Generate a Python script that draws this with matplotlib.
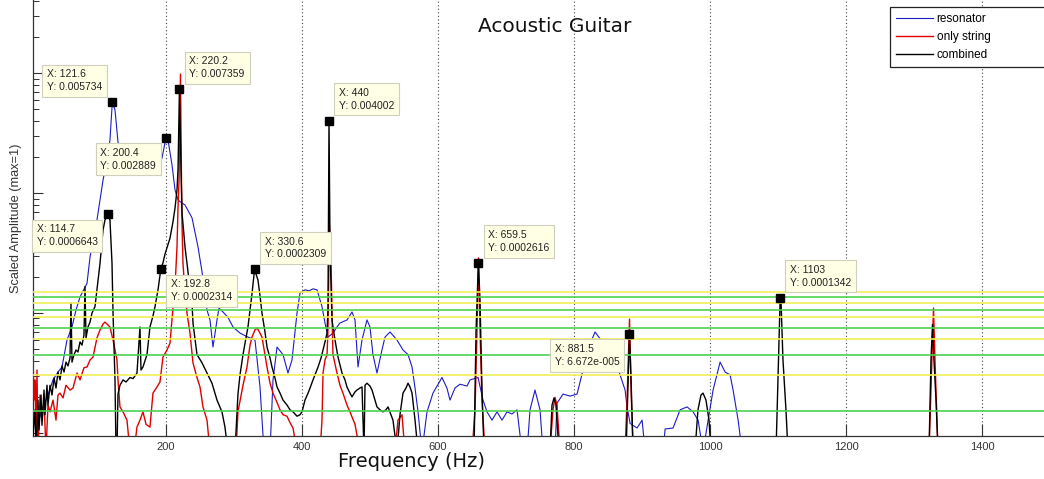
import numpy as np
import matplotlib
matplotlib.use("Agg")
import matplotlib.pyplot as plt

plt.rcParams.update({
    "font.family": ["Liberation Sans", "DejaVu Sans"],
    "axes.unicode_minus": False,
})

# resonator response (Hz, scaled amplitude)
res_freq = [7.9, 13.8, 19.7, 27.0, 34.4, 41.7, 47.6, 55.0, 62.3, 68.2, 74.1, 84.4, 88.8,
            99.0, 103.5, 107.9, 113.7, 118.1, 125.5, 129.9, 140.2, 154.9, 176.9, 188.7,
            194.6, 203.4, 209.3, 213.7, 218.1, 224.0, 228.4, 238.7, 247.5, 253.4, 260.7,
            265.1, 269.5, 275.4, 278.3, 284.2, 291.5, 298.9, 309.2, 320.9, 331.2, 338.6,
            344.5, 353.3, 357.7, 363.6, 372.4, 379.7, 385.6, 393.0, 397.4, 404.7, 410.6,
            416.5, 422.4, 429.7, 434.1, 438.5, 445.8, 451.7, 456.1, 466.4, 473.8, 478.2,
            482.6, 488.5, 495.8, 500.2, 504.6, 510.5, 517.8, 522.3, 529.6, 539.9, 548.7,
            556.1, 562.0, 566.4, 570.8, 576.6, 584.0, 592.8, 606.0, 613.3, 617.8, 625.1,
            632.5, 642.8, 647.2, 659.0, 666.3, 672.2, 679.5, 686.9, 694.2, 701.6, 708.9,
            716.3, 723.6, 731.0, 735.4, 742.7, 750.1, 754.5, 772.1, 775.0, 783.9, 794.2,
            804.5, 813.3, 823.6, 830.9, 838.3, 848.6, 857.4, 867.7, 875.1, 878.0, 882.5,
            892.7, 900.1, 904.5, 930.9, 933.9, 945.6, 955.9, 966.2, 975.0, 982.4, 989.7,
            997.1, 1004.4, 1014.7, 1022.1, 1029.4, 1033.8, 1041.2, 1047.1]
res_amp = [7e-6, 1.28e-5, 1.65e-5, 2.07e-5, 2.77e-5, 3.22e-5, 3.55e-5, 5.96e-5, 7.65e-5,
           1.06e-4, 1.36e-4, 1.77e-4, 2.93e-4, 5.96e-4, 8.75e-4, 1.28e-3, 1.88e-3, 2.77e-3,
           4.92e-3, 2.66e-3, 1.75e-3, 1.5e-3, 1.5e-3, 1.62e-3, 1.96e-3, 2.77e-3, 1.71e-3,
           1.06e-3, 8.75e-4, 8.25e-4, 7.95e-4, 6.2e-4, 3.55e-4, 2.2e-4, 1.06e-4, 8.75e-5,
           5.2e-5, 8.75e-5, 1.1e-4, 1.02e-4, 9.2e-5, 7.65e-5, 6.8e-5, 6.3e-5, 5.96e-5,
           2.42e-5, 7e-6, 7e-6, 2.77e-5, 5.2e-5, 4.5e-5, 3.16e-5, 4.06e-5, 1.0e-4, 1.47e-4,
           1.56e-4, 1.53e-4, 1.59e-4, 1.56e-4, 1.13e-4, 8.25e-5, 6.3e-5, 6.8e-5, 7.65e-5,
           8.25e-5, 8.75e-5, 1.02e-4, 8.75e-5, 3.55e-5, 5.96e-5, 8.75e-5, 7.65e-5, 4.5e-5,
           3.16e-5, 4.92e-5, 6.3e-5, 6.95e-5, 5.96e-5, 4.92e-5, 4.5e-5, 3.55e-5, 2.37e-5,
           1.5e-5, 7e-6, 1.5e-5, 2.15e-5, 2.9e-5, 2.37e-5, 1.88e-5, 2.37e-5, 2.55e-5,
           2.46e-5, 2.77e-5, 2.9e-5, 1.88e-5, 1.5e-5, 1.28e-5, 1.5e-5, 1.28e-5, 1.5e-5,
           1.44e-5, 1.56e-5, 7e-6, 7e-6, 1.56e-5, 2.28e-5, 1.56e-5, 7e-6, 7e-6, 1.77e-5,
           2.11e-5, 2.03e-5, 2.11e-5, 3.35e-5, 5.5e-5, 6.95e-5, 6.1e-5, 5.36e-5, 4.92e-5,
           3.05e-5, 2.28e-5, 1.65e-5, 1.2e-5, 1.1e-5, 1.28e-5, 7e-6, 7e-6, 1.08e-5, 1.1e-5,
           1.56e-5, 1.65e-5, 1.5e-5, 1.28e-5, 7e-6, 1.28e-5, 2.28e-5, 3.9e-5, 3.22e-5,
           3.05e-5, 2.28e-5, 1.28e-5, 7e-6]

# plucked string alone
str_freq = [5.0, 6.5, 7.9, 9.4, 10.9, 12.3, 15.3, 18.2, 21.2, 24.1, 27.0, 30.0, 34.4, 38.8,
            41.7, 44.7, 49.1, 53.5, 59.4, 63.8, 69.7, 74.1, 79.9, 84.4, 88.8, 93.2, 99.0,
            103.5, 107.9, 110.8, 115.2, 118.1, 122.6, 128.4, 129.9, 132.8, 137.3, 143.1,
            147.5, 153.4, 157.8, 162.2, 166.6, 171.1, 176.9, 181.3, 187.2, 191.6, 196.0,
            201.9, 206.3, 210.7, 213.7, 216.6, 218.1, 219.6, 221.7, 223.2, 224.0, 225.4,
            228.4, 231.3, 235.7, 240.1, 246.0, 250.4, 254.8, 260.7, 265.1, 303.3, 306.2,
            313.6, 319.5, 323.9, 326.8, 331.2, 334.2, 338.6, 341.5, 345.9, 348.9, 353.3,
            357.7, 363.6, 368.0, 372.4, 378.3, 382.7, 387.1, 393.0, 426.8, 429.7, 431.2,
            434.1, 437.1, 438.5, 440.7, 442.9, 444.4, 445.8, 451.7, 456.1, 460.5, 466.4,
            470.8, 478.2, 485.5, 536.9, 541.4, 547.2, 551.6, 650.2, 654.6, 657.5, 659.7,
            661.9, 664.8, 669.2, 764.7, 769.1, 772.1, 775.0, 779.4, 875.0, 878.0, 881.6,
            883.9, 886.9, 1321.7, 1324.6, 1328.3, 1330.5, 1335.0, 1490.0]
str_amp = [4.3e-5, 1.88e-5, 2.77e-5, 1.06e-5, 3.35e-5, 7e-6, 2.07e-5, 1.28e-5, 1.88e-5, 7e-6,
           1.71e-5, 1.5e-5, 1.88e-5, 1.28e-5, 2.07e-5, 2.15e-5, 1.96e-5, 2.5e-5, 2.28e-5,
           2.37e-5, 3.16e-5, 2.77e-5, 3.5e-5, 3.55e-5, 4.06e-5, 4.3e-5, 6.2e-5, 7.22e-5,
           8.1e-5, 8.4e-5, 7.95e-5, 7.65e-5, 5.96e-5, 4.06e-5, 2.77e-5, 1.65e-5, 1.5e-5,
           1.28e-5, 7e-6, 7e-6, 1.12e-5, 1.28e-5, 1.5e-5, 1.18e-5, 1.12e-5, 2.15e-5, 2.42e-5,
           2.66e-5, 4.3e-5, 4.92e-5, 5.6e-5, 1.1e-4, 1.66e-4, 3.55e-4, 7.5e-4, 1.28e-3,
           9.8e-3, 1.28e-3, 5.45e-4, 2.6e-4, 1.44e-4, 1.0e-4, 6.8e-5, 3.84e-5, 2.9e-5,
           2.42e-5, 1.65e-5, 1.28e-5, 7e-6, 7e-6, 1.5e-5, 2.5e-5, 3.55e-5, 5.4e-5, 6.3e-5,
           7.22e-5, 7.5e-5, 6.8e-5, 6.3e-5, 4.5e-5, 3.55e-5, 2.6e-5, 2.15e-5, 1.8e-5,
           1.56e-5, 1.42e-5, 1.38e-5, 1.22e-5, 1.1e-5, 7e-6, 7e-6, 1.28e-5, 3.16e-5, 4.06e-5,
           4.5e-5, 7.22e-5, 5.4e-4, 2.77e-4, 1.0e-4, 4.5e-5, 3.16e-5, 2.5e-5, 2.15e-5,
           1.71e-5, 1.5e-5, 1.18e-5, 7e-6, 7e-6, 1.28e-5, 1.42e-5, 7e-6, 7e-6, 1.56e-5,
           7.22e-5, 2.88e-4, 7.22e-5, 1.88e-5, 7e-6, 7e-6, 1.56e-5, 1.98e-5, 1.71e-5, 7e-6,
           7e-6, 1.88e-5, 8.9e-5, 2.28e-5, 7e-6, 7e-6, 2.28e-5, 1.1e-4, 4.06e-5, 7e-6, 7e-6]

# string mounted on the body
comb_freq = [5.0, 7.9, 9.4, 12.3, 13.8, 16.8, 18.2, 21.2, 22.6, 25.6, 27.0, 30.0, 32.9, 35.9,
             38.8, 41.7, 44.7, 47.6, 50.6, 53.5, 56.4, 59.4, 60.8, 62.3, 65.2, 68.2, 71.1,
             74.1, 77.0, 79.9, 81.4, 82.9, 85.8, 88.8, 91.7, 96.1, 99.0, 103.5, 107.9, 110.8,
             118.1, 121.1, 122.6, 125.5, 127.0, 128.4, 129.9, 132.8, 137.3, 141.7, 147.5,
             152.0, 157.8, 162.2, 163.7, 166.6, 172.5, 176.9, 181.3, 184.3, 188.7, 196.0,
             199.0, 206.3, 210.7, 213.7, 216.6, 218.1, 222.5, 224.0, 228.4, 232.8, 235.7,
             238.7, 240.1, 246.0, 253.4, 260.7, 268.0, 275.4, 282.7, 287.1, 291.5, 301.8,
             306.2, 309.2, 313.6, 318.0, 320.9, 323.9, 326.8, 335.6, 338.6, 341.5, 345.9,
             348.9, 353.3, 356.2, 360.6, 363.6, 368.0, 372.4, 378.3, 382.7, 387.1, 393.0,
             397.4, 400.3, 404.7, 409.2, 412.1, 416.5, 423.9, 428.3, 431.2, 434.1, 437.1,
             438.5, 441.5, 444.4, 448.8, 453.2, 459.1, 463.5, 466.4, 470.8, 473.8, 478.2,
             481.1, 485.5, 488.5, 491.4, 492.9, 495.8, 500.2, 503.2, 507.6, 510.5, 514.9,
             519.3, 523.7, 526.7, 531.1, 534.0, 539.9, 544.3, 548.7, 553.1, 556.1, 559.0,
             562.0, 566.4, 570.8, 653.1, 656.1, 661.9, 664.8, 667.8, 764.7, 767.7, 770.6,
             773.5, 778.0, 876.6, 879.6, 883.9, 886.9, 977.8, 982.2, 986.6, 989.6, 994.0,
             998.4, 1001.4, 1096.9, 1099.8, 1104.2, 1107.1, 1111.5, 1114.5, 1321.7, 1324.6,
             1326.8, 1329.0, 1332.0, 1335.0, 1490.0]
comb_amp = [9.6e-6, 1.56e-5, 7e-6, 1.88e-5, 1.06e-5, 2.07e-5, 1.16e-5, 2.28e-5, 1.42e-5,
            2.5e-5, 1.71e-5, 2.5e-5, 2.07e-5, 2.88e-5, 2.37e-5, 3.22e-5, 2.77e-5, 3.62e-5,
            3.22e-5, 3.9e-5, 3.62e-5, 4.22e-5, 1.21e-4, 3.9e-5, 4.47e-5, 4.92e-5, 4.73e-5,
            5.74e-5, 5.4e-5, 6.55e-5, 1.66e-4, 6.2e-5, 7.65e-5, 8.4e-5, 1.0e-4, 1.13e-4,
            1.56e-4, 2.6e-4, 4.92e-4, 5.96e-4, 5.96e-4, 2.6e-4, 1.0e-4, 2.77e-5, 7e-6, 7e-6,
            2.11e-5, 2.5e-5, 2.77e-5, 2.66e-5, 2.9e-5, 2.84e-5, 3.16e-5, 7.65e-5, 3.35e-5,
            3.55e-5, 4.5e-5, 7.65e-5, 9.45e-5, 1.13e-4, 1.56e-4, 2.62e-4, 3.1e-4, 4.2e-4,
            5.75e-4, 7.5e-4, 1.06e-3, 1.56e-3, 1.56e-3, 6.8e-4, 3.55e-4, 2.2e-4, 1.56e-4,
            1.21e-4, 8.25e-5, 4.5e-5, 3.84e-5, 3.16e-5, 2.6e-5, 1.88e-5, 1.5e-5, 1.12e-5,
            7e-6, 7e-6, 2.11e-5, 3.05e-5, 4.5e-5, 6.2e-5, 7.65e-5, 1.06e-4, 1.44e-4, 1.88e-4,
            1.39e-4, 1.0e-4, 6.95e-5, 5.2e-5, 4.22e-5, 3.55e-5, 2.88e-5, 2.42e-5, 2.15e-5,
            1.88e-5, 1.71e-5, 1.56e-5, 1.5e-5, 1.38e-5, 1.42e-5, 1.5e-5, 1.88e-5, 2.15e-5,
            2.37e-5, 2.77e-5, 3.55e-5, 4.22e-5, 4.92e-5, 5.74e-5, 6.8e-5, 1.13e-4, 3.35e-4,
            8.75e-5, 5.96e-5, 4.3e-5, 3.16e-5, 2.77e-5, 2.42e-5, 2.15e-5, 2.0e-5, 2.2e-5,
            2.28e-5, 2.37e-5, 2.42e-5, 7e-6, 2.5e-5, 2.6e-5, 2.46e-5, 2.28e-5, 1.88e-5,
            1.65e-5, 1.56e-5, 1.5e-5, 1.56e-5, 1.65e-5, 1.42e-5, 1.28e-5, 7e-6, 1.42e-5,
            2.15e-5, 2.37e-5, 2.6e-5, 2.42e-5, 2.15e-5, 1.28e-5, 7e-6, 7e-6, 7.22e-5,
            1.28e-4, 2.28e-5, 7e-6, 7e-6, 1.71e-5, 1.96e-5, 1.71e-5, 7e-6, 7e-6, 2.77e-5,
            2.77e-5, 7e-6, 7e-6, 1.56e-5, 2.07e-5, 2.15e-5, 1.88e-5, 1.28e-5, 7e-6, 7e-6,
            2.77e-5, 1.28e-4, 4.06e-5, 1.56e-5, 7e-6, 7e-6, 4.06e-5, 8.0e-5, 4.06e-5,
            1.88e-5, 7e-6, 7e-6]

# data cursors placed on the peaks
tip_freq = [121.6, 200.4, 114.7, 192.8, 220.2, 330.6, 440, 659.5, 881.5, 1103]
tip_amp = [0.005734, 0.002889, 0.0006643, 0.0002314, 0.007359, 0.0002309, 0.004002,
           0.0002616, 6.672e-05, 0.0001342]
tip_curve = ["resonator", "resonator", "combined", "combined", "combined", "combined",
             "combined", "combined", "combined", "combined"]
tip_side = ["ul", "ll", "ll", "lr", "ur", "ur", "ur", "ur", "ll", "ur"]

# horizontal reference levels
yellow_levels = [1.51e-4, 1.21e-4, 9.2e-5, 6.1e-5, 3.05e-5]
green_levels = [1.35e-4, 1.06e-4, 7.55e-5, 4.47e-5, 1.53e-5]


def with_tips(freq, amp, name):
    f = list(freq) + [x for x, c in zip(tip_freq, tip_curve) if c == name]
    a = list(amp) + [y for y, c in zip(tip_amp, tip_curve) if c == name]
    order = np.argsort(f)
    return np.array(f)[order], np.array(a)[order]


def matlab_num(v):
    s = f"{v:.4g}"
    if "e" in s:
        m, e = s.split("e")
        s = f"{m}e{e[0]}{e[1:].lstrip('0').zfill(3)}"
    return s


W, H = 1044, 479
fig = plt.figure(figsize=(W / 100, H / 100), dpi=100)
ax = fig.add_axes([33 / W, 43 / H, 1 - 33 / W, 436 / H])

ax.set_yscale("log")
ax.set_xlim(5, 1490.7)
ax.set_ylim(9.44e-6, 0.0406)

f, a = with_tips(res_freq, res_amp, "resonator")
ax.plot(f, a, color="#1c1cc8", lw=0.8, label="resonator", zorder=2)
ax.plot(str_freq, str_amp, color="#e00000", lw=1.0, label="only string", zorder=3)
f, a = with_tips(comb_freq, comb_amp, "combined")
ax.plot(f, a, color="black", lw=1.0, label="combined", zorder=4)

for lv in yellow_levels:
    ax.axhline(lv, color="#f2ee55", lw=1.2, zorder=5)
for lv in green_levels:
    ax.axhline(lv, color="#4fd24f", lw=1.2, zorder=5)

ax.plot(tip_freq, tip_amp, ls="none", marker="s", ms=6, color="black", zorder=7)

offsets = {"ur": (10, 10, "left", "bottom"), "ul": (-10, 10, "right", "bottom"),
           "lr": (10, -10, "left", "top"), "ll": (-10, -10, "right", "top")}
for x, y, side in zip(tip_freq, tip_amp, tip_side):
    dx, dy, ha, va = offsets[side]
    ax.annotate(f"X: {matlab_num(x)}\nY: {matlab_num(y)}", xy=(x, y),
                xytext=(dx, dy), textcoords="offset pixels", ha=ha, va=va,
                multialignment="left", fontsize=7.5, color="#222222",
                linespacing=1.35, zorder=8,
                bbox=dict(boxstyle="square,pad=0.45", fc="#ffffe6", ec="#cfcfbd", lw=0.8))

ax.set_xticks([200, 400, 600, 800, 1000, 1200, 1400])
ax.tick_params(axis="x", direction="in", length=8.5, width=0.8, pad=4,
               labelsize=8, colors="#333333", labelcolor="#333333")
ax.tick_params(axis="y", which="major", direction="in", length=7, width=0.8,
               colors="#333333", labelleft=False)
ax.tick_params(axis="y", which="minor", direction="in", length=4, width=0.7,
               colors="#333333", labelleft=False)
ax.grid(axis="x", color="#444444", ls=(0, (1, 2.2)), lw=0.8)
ax.spines["top"].set_visible(False)
ax.spines["right"].set_visible(False)
for s in ("left", "bottom"):
    ax.spines[s].set_color("#333333")
    ax.spines[s].set_linewidth(0.9)

leg = ax.legend(loc="upper left", bbox_to_anchor=(890 / W, 0, 210 / W, 1 - 7 / H),
                bbox_transform=fig.transFigure, mode="expand", borderaxespad=0,
                fontsize=8.5, handlelength=3.1, handletextpad=0.35, borderpad=0.5,
                labelspacing=0.5, fancybox=False, framealpha=1)
leg.get_frame().set_edgecolor("#222222")
leg.get_frame().set_linewidth(0.9)
leg.set_zorder(9)

fig.text(555 / W, 1 - 32 / H, "Acoustic Guitar", ha="center", va="baseline",
         fontsize=14.5, family="DejaVu Sans", color="#111111")
fig.text(411 / W, 1 - 467 / H, "Frequency (Hz)", ha="center", va="baseline",
         fontsize=14, family="DejaVu Sans", color="#111111")
fig.text(16.5 / W, 1 - 218 / H, "Scaled Amplitude (max=1)", rotation=90,
         ha="center", va="center", fontsize=9.2, color="#333333")

fig.savefig("out.png", dpi=100)
